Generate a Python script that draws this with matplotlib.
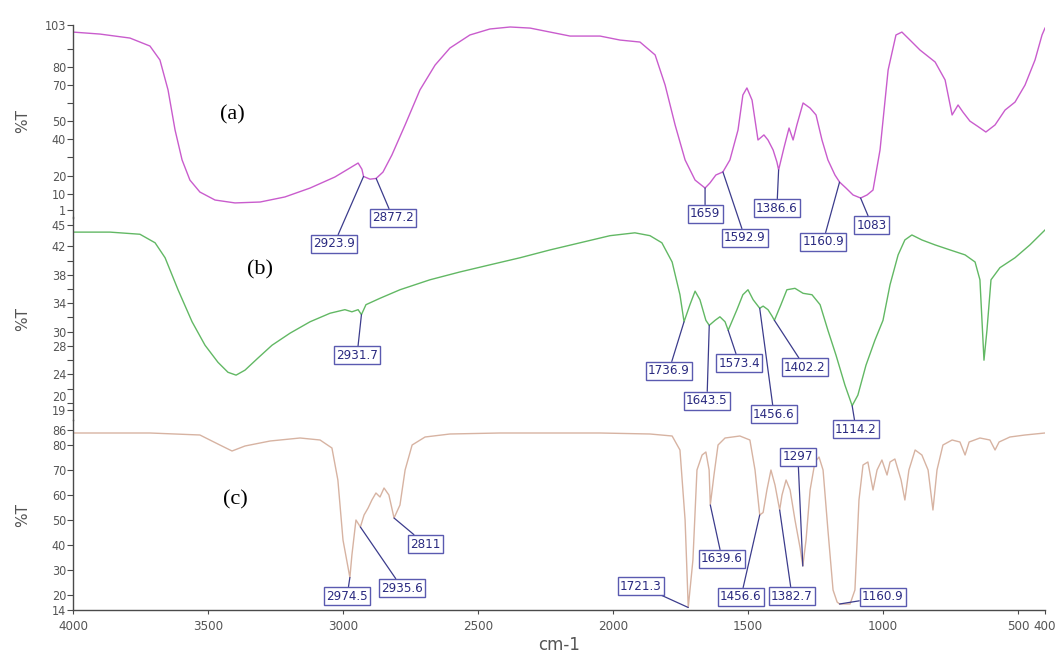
import numpy as np
import matplotlib
matplotlib.use("Agg")
import matplotlib.pyplot as plt
from matplotlib.transforms import ScaledTranslation

# ---------------- spectra (wavenumber in cm-1, transmittance in %T) ----------------
wn_a = [4000, 3900, 3789, 3715, 3678, 3648, 3622, 3596, 3567, 3530, 3474, 3400, 3307,
        3215, 3122, 3030, 2974, 2944, 2930, 2923.9, 2900, 2877.2, 2852, 2819, 2770, 2715,
        2659, 2604, 2530, 2456, 2381, 2307, 2233, 2159, 2048, 1974, 1900, 1844, 1807,
        1770, 1733, 1696, 1659, 1641, 1619, 1592.9, 1567, 1537, 1519, 1504, 1485, 1463,
        1441, 1426, 1407, 1393, 1386.6, 1367, 1348, 1333, 1319, 1296, 1270, 1248, 1226,
        1204, 1178, 1160.9, 1137, 1111, 1083, 1059, 1037, 1011, 981, 952, 930, 900, 863,
        807, 770, 744, 722, 704, 678, 648, 619, 585, 548, 511, 474, 437, 411, 400]
t_a = [99.1, 98.0, 95.8, 91.4, 83.7, 67.2, 45.1, 28.6, 17.5, 10.9, 6.5, 4.9, 5.4,
       8.2, 13.1, 19.2, 24.2, 26.9, 23.5, 19.5, 18.0, 18.4, 21.9, 31.3, 47.9, 67.2,
       80.9, 90.3, 97.5, 100.8, 101.9, 101.3, 99.1, 96.9, 96.9, 94.7, 93.6, 86.5, 69.9,
       47.9, 28.6, 17.5, 13.1, 15.9, 20.3, 22.0, 28.6, 45.1, 64.4, 68.3, 61.6, 39.6,
       42.4, 39.6, 34.1, 27.5, 23.1, 35.2, 46.2, 39.6, 47.9, 60.0, 57.2, 53.4, 39.6,
       28.6, 20.3, 16.4, 13.1, 9.3, 7.6, 9.3, 12.0, 34.1, 78.2, 97.5, 99.1, 94.7, 89.2,
       82.6, 72.7, 53.4, 58.9, 55.0, 50.0, 47.0, 44.0, 47.9, 56.1, 60.5, 69.9, 83.7, 97.5, 101.3]

wn_b = [4000, 3863, 3752, 3696, 3659, 3611, 3559, 3511, 3463, 3426, 3396, 3363, 3315,
        3263, 3196, 3122, 3048, 2993, 2967, 2944, 2931.7, 2915, 2863, 2789, 2678, 2567,
        2456, 2344, 2233, 2122, 2011, 1919, 1863, 1819, 1781, 1752, 1736.9, 1715, 1696,
        1678, 1656, 1643.5, 1622, 1604, 1585, 1573.4, 1541, 1519, 1500, 1481, 1456.6,
        1444, 1426, 1411, 1402.2, 1378, 1356, 1326, 1296, 1263, 1233, 1204, 1174, 1141,
        1114.2, 1093, 1063, 1030, 1000, 974, 944, 919, 893, 856, 807, 752, 696, 659, 641,
        626, 615, 600, 567, 511, 456, 400]
t_b = [44.0, 44.0, 43.7, 42.5, 40.4, 35.9, 31.4, 28.1, 25.7, 24.3, 23.9, 24.6, 26.3,
       28.1, 29.8, 31.4, 32.6, 33.1, 32.8, 33.1, 32.4, 33.8, 34.7, 35.9, 37.3, 38.4,
       39.4, 40.4, 41.5, 42.5, 43.5, 43.9, 43.5, 42.5, 39.8, 35.2, 31.4, 33.8, 35.7,
       34.5, 31.6, 30.9, 31.6, 32.1, 31.4, 30.2, 33.1, 35.2, 35.9, 34.5, 33.3,
       33.6, 33.1, 32.2, 31.6, 33.8, 35.9, 36.1, 35.4, 35.2, 33.8, 30.2, 26.7, 22.5,
       19.6, 21.1, 25.3, 28.8, 31.6, 36.6, 40.8, 42.9, 43.6, 42.9, 42.2, 41.5, 40.8, 39.8, 37.3,
       26.0, 30.2, 37.3, 39.0, 40.4, 42.2, 44.3]

wn_c = [4000, 3715, 3530, 3456, 3411, 3363, 3270, 3159, 3085, 3041, 3019, 3000, 2974.5,
        2967, 2952, 2935.6, 2922, 2907, 2893, 2878, 2863, 2848, 2830, 2811, 2789, 2770,
        2744, 2696, 2604, 2419, 2048, 1863, 1781, 1752, 1733, 1721.3, 1704, 1689, 1670,
        1656, 1644, 1639.6, 1626, 1611, 1585, 1530, 1493, 1474, 1456.6, 1444, 1430, 1415,
        1400, 1382.7, 1374, 1359, 1344, 1326, 1307, 1297, 1285, 1270, 1252, 1237, 1222,
        1204, 1185, 1170, 1160.9, 1122, 1104, 1089, 1074, 1056, 1037, 1022, 1004, 985,
        974, 956, 933, 919, 904, 881, 856, 833, 815, 800, 778, 744, 715, 696, 681, 641,
        604, 585, 570, 530, 474, 400]
t_c = [84.8, 84.8, 84.0, 80.0, 77.6, 79.6, 81.6, 82.8, 82.0, 78.8, 66.0, 42.0, 27.0,
       36.0, 50.0, 47.2, 52.0, 54.8, 58.0, 60.8, 59.2, 62.8, 60.0, 50.8, 56.0, 70.0,
       80.0, 83.2, 84.4, 84.8, 84.8, 84.4, 83.6, 78.0, 50.0, 15.0, 34.0, 70.0, 76.0,
       77.2, 70.0, 56.0, 68.0, 80.0, 82.8, 83.6, 82.0, 70.0, 52.0, 53.0, 62.0, 70.0,
       64.0, 54.0, 60.0, 66.0, 62.0, 50.0, 38.8, 31.6, 42.0, 62.0, 73.2, 75.2, 70.0,
       46.0, 22.0, 17.2, 16.4, 16.4, 22.0, 58.0, 72.0, 73.2, 62.0, 70.0, 74.0, 68.0,
       73.2, 74.4, 66.0, 58.0, 70.0, 78.0, 76.0, 70.0, 54.0, 70.0, 80.0, 82.0, 81.2, 76.0, 81.2, 82.8,
       82.0, 78.0, 81.2, 83.2, 84.0, 84.8]

# peak labels of each spectrum and where their boxes sit (wavenumber, %T)
peaks_a = [2923.9, 2877.2, 1659, 1592.9, 1386.6, 1160.9, 1083]
boxes_a = [(3033, -17.7), (2815, -3.4), (1659, -1.2), (1511, -14.4), (1393, 2.1),
           (1222, -16.6), (1041, -7.3)]
peaks_b = [2931.7, 1736.9, 1643.5, 1573.4, 1456.6, 1402.2, 1114.2]
boxes_b = [(2948, 26.7), (1793, 24.5), (1652, 20.3), (1533, 25.6), (1404, 18.4),
           (1289, 25.0), (1100, 16.3)]
peaks_c = [2974.5, 2935.6, 2811, 1721.3, 1639.6, 1456.6, 1382.7, 1297, 1160.9]
boxes_c = [(2985, 19.6), (2781, 22.8), (2696, 40.4), (1896, 23.6), (1596, 34.4),
           (1526, 19.2), (1337, 19.6), (1315, 75.2), (1000, 19.2)]

x_ticks = [4000, 3500, 3000, 2500, 2000, 1500, 1000, 500, 400]
y_ticks_a = [1, 10, 20, 40, 50, 70, 80, 103]
y_minor_a = [30, 60, 90]
y_ticks_b = [19, 20, 24, 28, 30, 34, 38, 42, 45]
y_minor_b = [22, 26, 32, 36, 40]
y_ticks_c = [14, 20, 30, 40, 50, 60, 70, 80, 86]

# ---------------- styling ----------------
W, H = 1058, 659
axis_grey = "#4a4a4a"
label_grey = "#555555"
box_edge = "#5a5ab0"
box_text = "#2a2a80"
lead_col = "#3c3c8c"
small_font = dict(family="DejaVu Sans", stretch="condensed")

fig = plt.figure(figsize=(W / 100, H / 100), dpi=100)


def px_axes(top_px, bottom_px):
    left, right = 73, 1045
    return fig.add_axes([left / W, 1 - bottom_px / H, (right - left) / W,
                         (bottom_px - top_px) / H])


ax_a = px_axes(25, 217.5)
ax_b = px_axes(217.5, 420)
ax_c = px_axes(420, 610)

ax_a.set_ylim(1 - 7.5 / 1.8137, 103)
ax_b.set_ylim(19 - 10 / 7.115, 45 + 7.5 / 7.115)
ax_c.set_ylim(14, 90)

specs = [
    (ax_a, wn_a, t_a, "#c95ccd", peaks_a, boxes_a, y_ticks_a, y_minor_a),
    (ax_b, wn_b, t_b, "#62b864", peaks_b, boxes_b, y_ticks_b, y_minor_b),
    (ax_c, wn_c, t_c, "#d7b3a2", peaks_c, boxes_c, y_ticks_c, []),
]

for z, (ax, wn, tr, col, pk, bx, yt, ym) in enumerate(specs):
    ax.set_zorder(3 - z)
    ax.patch.set_visible(False)
    ax.plot(wn, tr, color=col, lw=1.0, zorder=2)
    ax.set_xlim(4000, 400)
    for s in ("top", "right"):
        ax.spines[s].set_visible(False)
    ax.spines["left"].set_color(axis_grey)
    ax.spines["left"].set_linewidth(1.0)
    ax.set_yticks(yt)
    ax.set_yticks(ym, minor=True)
    ax.tick_params(axis="y", which="both", direction="out", length=4, width=0.8,
                   colors=axis_grey, labelcolor=label_grey, labelsize=9, pad=1)
    for lab in ax.get_yticklabels():
        lab.set_fontstretch("condensed")
    ax.set_ylabel("%T", color=label_grey, fontsize=11)
    ax.yaxis.set_label_coords(-0.044, 0.5)

    order = np.argsort(wn)
    wn_sorted = np.asarray(wn)[order]
    tr_sorted = np.asarray(tr)[order]
    for p, (bxw, bxt) in zip(pk, bx):
        py = float(np.interp(p, wn_sorted, tr_sorted))
        ax.annotate(f"{p:g}", xy=(p, py), xytext=(bxw, bxt), textcoords="data",
                    ha="center", va="center", fontsize=9.5, color=box_text,
                    annotation_clip=False, zorder=5, **small_font,
                    bbox=dict(boxstyle="square,pad=0.18", fc="white", ec=box_edge, lw=1.0),
                    arrowprops=dict(arrowstyle="-", color=lead_col, lw=0.9,
                                    shrinkA=0, shrinkB=0))

# the "20" label of the middle scale sits a little above its tick, clear of "19"
for lab in ax_b.get_yticklabels():
    if lab.get_text() == "20":
        lab.set_transform(lab.get_transform() + ScaledTranslation(0, 5 / 72, fig.dpi_scale_trans))

for ax in (ax_a, ax_b):
    ax.spines["bottom"].set_visible(False)
    ax.set_xticks([])

ax_c.spines["bottom"].set_color(axis_grey)
ax_c.spines["bottom"].set_linewidth(1.0)
ax_c.set_xticks(x_ticks)
ax_c.set_xticklabels([str(v) for v in x_ticks])
ax_c.tick_params(axis="x", direction="out", length=3, width=0.8, colors=axis_grey,
                 labelcolor=label_grey, labelsize=9.5, pad=4)
for lab in ax_c.get_xticklabels():
    lab.set_fontstretch("condensed")
ax_c.set_xlabel("cm-1", color=label_grey, fontsize=12, labelpad=2)

# panel letters
for txt, (x_px, y_px) in zip(["(a)", "(b)", "(c)"], [(232, 115), (260, 270), (235, 500)]):
    fig.text(x_px / W, 1 - y_px / H, txt, ha="center", va="center",
             family="Liberation Serif", fontsize=16, color="black")

fig.savefig("out.png", dpi=100, facecolor="white")
